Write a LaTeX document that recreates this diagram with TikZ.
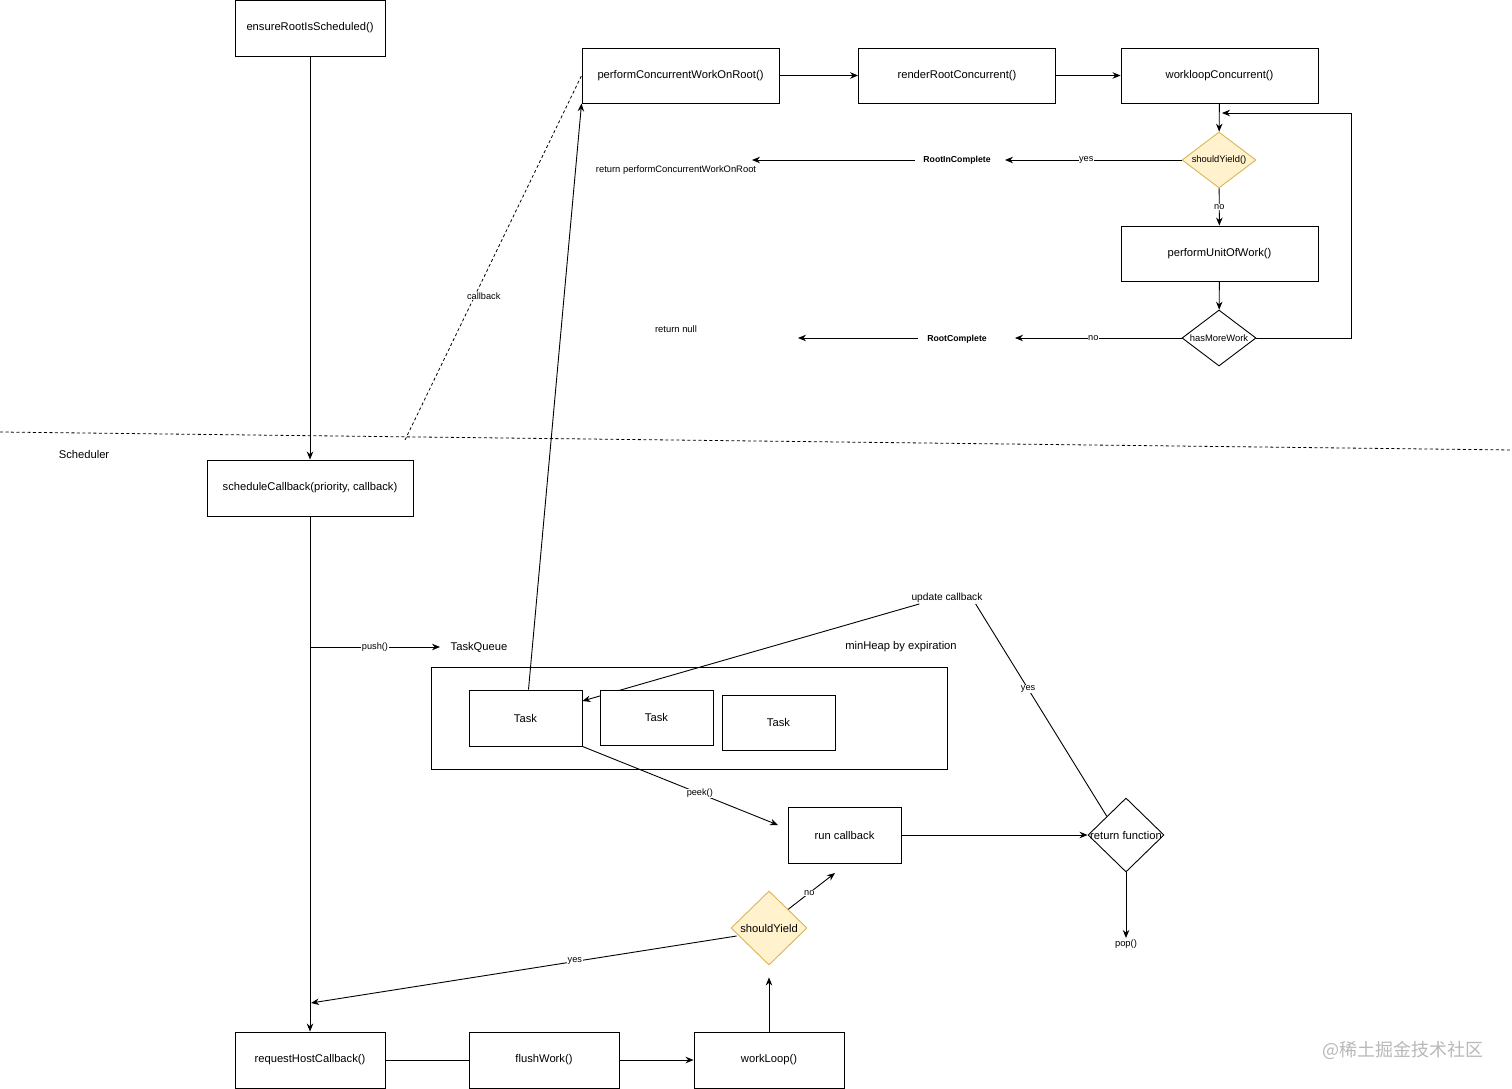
\documentclass[tikz,border=0pt]{standalone}
\usepackage{fontspec}
\setmainfont{Liberation Sans}
\newfontfamily\cjkfont{Noto Sans CJK SC}
\usetikzlibrary{shapes.geometric,arrows.meta,calc,backgrounds}
\definecolor{ylwfill}{HTML}{FFF2CC}
\definecolor{ylwline}{HTML}{D6B656}
\tikzset{
  box/.style={draw=black, fill=white, line width=0.9pt, inner sep=0pt, font=\fontsize{11.2}{13}\selectfont},
  dia/.style={diamond, draw=black, fill=white, line width=0.9pt, inner sep=0pt},
  ydia/.style={dia, draw=ylwline, fill=ylwfill},
  txt/.style={inner sep=1pt, font=\fontsize{11.2}{13}\selectfont},
  stxt/.style={inner sep=1pt, font=\fontsize{9.4}{11}\selectfont},
  btxt/.style={inner sep=1pt, font=\fontsize{8.7}{10}\selectfont\bfseries},
  lbl/.style={fill=white, inner sep=0.5pt, font=\fontsize{9.2}{10}\selectfont},
  conn/.style={line width=0.9pt},
  arr/.style={conn, -{Stealth[length=8pt,width=6.5pt]}},
}
\begin{document}
\begin{tikzpicture}[x=1pt,y=-1pt]
\useasboundingbox (0,0) rectangle (1512,1089);
% ---------- top part ----------
\node[box, minimum width=150, minimum height=56] (ens) at (310,28) {ensureRootIsScheduled()};
\node[box, minimum width=197, minimum height=55] (perf) at (680.5,75.5) {performConcurrentWorkOnRoot()};
\node[box, minimum width=197, minimum height=55] (rend) at (957,75.5) {renderRootConcurrent()};
\node[box, minimum width=197, minimum height=55] (wlc) at (1219.5,75.5) {workloopConcurrent()};
\node[ydia, minimum width=74, minimum height=56] (sy1) at (1219,160) {};
\node[stxt] (sy1t) at (1219,160) {shouldYield()};
\node[box, minimum width=197, minimum height=55] (puow) at (1219.5,253.5) {performUnitOfWork()};
\node[dia, minimum width=74, minimum height=56] (hmw) at (1219,338) {};
\node[stxt] (hmwt) at (1219,338) {hasMoreWork};
\node[btxt] (rin) at (957,160) {RootInComplete};
\node[btxt] (rc) at (957,339) {RootComplete};
\node[stxt] (retp) at (676,170) {return performConcurrentWorkOnRoot};
\node[stxt] (retn) at (676,329) {return null};
\coordinate (rinTip) at (1005,160);
\coordinate (rinFrom) at (915,160);
\coordinate (retpTip) at (752,160);
\coordinate (rcTip) at (1015,338);
\coordinate (rcFrom) at (918,338);
\coordinate (retnTip) at (798,338);
\coordinate (loopA) at (1351,338);
\coordinate (loopB) at (1351,113);
\coordinate (loopTip) at (1222,113);

\draw[arr] (perf) -- (rend);
\draw[arr] (rend) -- (wlc);
\draw[arr] (wlc) -- (sy1);
\draw[arr] (sy1) -- node[lbl, pos=0.5] {no} (puow);
\draw[arr] (puow) -- (hmw);
\draw[arr] (sy1.west) -- node[lbl, pos=0.54] {yes} (rinTip);
\draw[arr] (rinFrom) -- (retpTip);
\draw[arr] (hmw.west) -- node[lbl, pos=0.53] {no} (rcTip);
\draw[arr] (rcFrom) -- (retnTip);
\draw[arr] (hmw.east) -- (loopA) -- (loopB) -- (loopTip);

% ---------- separator ----------
\coordinate (sepL) at (0,432);
\coordinate (sepR) at (1512,450);
\draw[line width=0.8pt, dash pattern=on 3pt off 2.5pt] (sepL) -- (sepR);
\node[txt] (sched) at (84,454) {Scheduler};
\coordinate (cbEnd) at (405,440);
\draw[line width=0.8pt, dash pattern=on 3pt off 2.5pt] (cbEnd) -- node[lbl, pos=0.395, xshift=9pt] {callback} (perf.west);

% ---------- scheduler part ----------
\node[box, minimum width=206, minimum height=56] (scb) at (310,488) {scheduleCallback(priority, callback)};
\node[box, minimum width=150, minimum height=56] (rhc) at (310,1060) {requestHostCallback()};
\node[box, minimum width=150, minimum height=56] (fw) at (544,1060) {flushWork()};
\node[box, minimum width=150, minimum height=56] (wl) at (769,1060) {workLoop()};
\draw[arr] (ens) -- (scb);
\draw[arr] (scb) -- (rhc);
\draw[conn] (rhc) -- (fw);
\draw[arr] (fw) -- (wl);

\node[txt] (tq) at (479,647) {TaskQueue};
\node[txt] (mh) at (901,647) {minHeap by expiration};
\coordinate (pushFrom) at (310,647);
\coordinate (pushTip) at (440,647);
\draw[arr] (pushFrom) -- node[lbl, pos=0.5] {push()} (pushTip);

\node[draw=black, line width=0.9pt, minimum width=516, minimum height=102, inner sep=0pt] (heap) at (689.5,718) {};
\node[box, minimum width=113, minimum height=56] (t1) at (525.5,718) {Task};
\node[box, minimum width=113, minimum height=55] (t2) at (656.5,717.5) {Task};
\node[box, minimum width=113, minimum height=55] (t3) at (778.5,722.5) {Task};

\node[inner sep=1pt, font=\fontsize{10.2}{12}\selectfont] (ucb) at (947,598) {update callback};
\coordinate (ucbTip) at ($(t1.east)+(0,-17)$);
\begin{pgfonlayer}{background}
\draw[arr] ($(ucb.south west)+(9,0)$) -- (ucbTip);
\end{pgfonlayer}

\draw[arr] ($(t1.north)+(3,0)$) -- (perf.south west);

\node[box, minimum width=113, minimum height=56] (runcb) at (844.5,835) {run callback};
\coordinate (peekTip) at (778,825);
\draw[arr] (t1.south east) -- node[lbl, pos=0.6] {peek()} (peekTip);

\node[dia, minimum width=76, minimum height=74] (rf) at (1126,835) {};
\node[txt, inner sep=0pt] (rft) at (1126,835) {return function};
\draw[arr] (runcb.east) -- (rf.west);
\coordinate (popTip) at (1126,938);
\draw[arr] (rf.south) -- (popTip);
\node[stxt] (pop) at (1126,944) {pop()};
\draw[conn] ($(ucb.south east)+(-8,0)$) -- node[lbl, pos=0.4] {yes} (rf.north west);

\node[ydia, minimum width=76, minimum height=74] (sy2) at (769,928) {};
\node[txt] (sy2t) at (769,928) {shouldYield};
\coordinate (noTip) at (835,873);
\draw[arr] (sy2.north east) -- node[lbl, pos=0.45] {no} (noTip);
\coordinate (yesTip) at (311,1003);
\draw[arr] ($(sy2.west)+(6,8)$) -- node[lbl, pos=0.38] {yes} (yesTip);
\draw[arr] (wl.north) -- ($(sy2.south)+(0,12)$);

% ---------- watermark ----------
\node[inner sep=0pt, text=black!28, font=\cjkfont\fontsize{18}{20}\selectfont] (wm) at (1403,1050) {@稀土掘金技术社区};
\end{tikzpicture}
\end{document}
